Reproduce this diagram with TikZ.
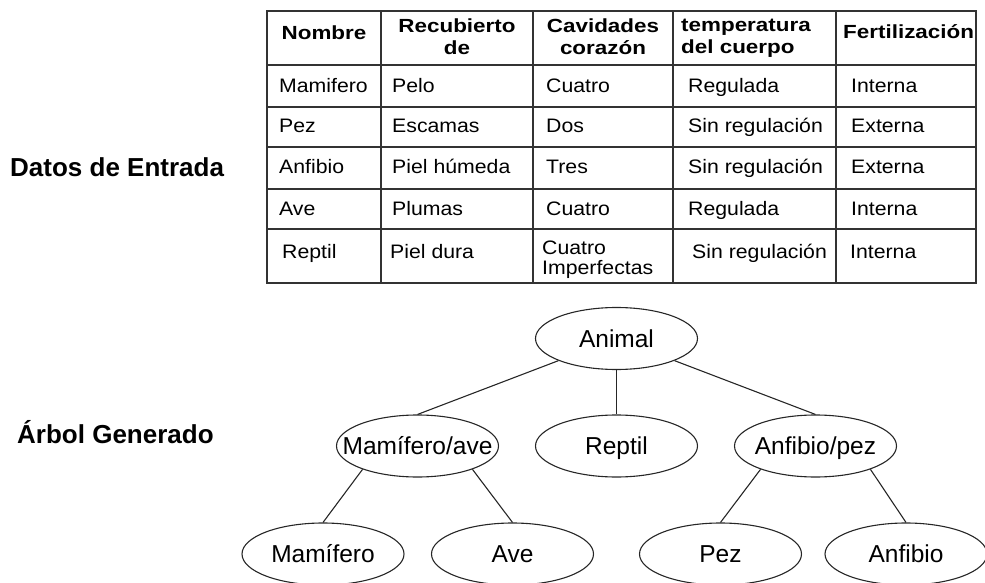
\documentclass[tikz,border=0pt]{standalone}
\usepackage{fontspec}
\setmainfont{Liberation Sans}
\newfontfamily\cellfont{Liberation Sans}[FakeStretch=1.09]
\newfontfamily\headfont{Liberation Sans}[FakeStretch=1.18]
\usetikzlibrary{shapes.geometric}
\tikzstyle{cell}   = [inner sep=0pt, anchor=base west,
                      font=\cellfont\fontsize{19.5}{20}\selectfont]
\tikzstyle{hcell}  = [inner sep=0pt, font=\headfont\bfseries\fontsize{19}{22}\selectfont]
\tikzstyle{title}  = [inner sep=0pt, anchor=base west,
                      font=\bfseries\fontsize{26}{30}\selectfont]
\tikzstyle{grid}   = [line width=1.6pt, draw=black!80]
\tikzstyle{frame}  = [line width=2.6pt, draw=black!80]
\tikzstyle{taxon}  = [ellipse, draw=black!85, line width=1.1pt, minimum width=162pt,
                      minimum height=62pt, inner ysep=0pt, inner xsep=-18pt,
                      text height=17.5pt, text depth=0pt,
                      font=\fontsize{24.5}{28}\selectfont]
\tikzstyle{branch} = [line width=1.1pt, draw=black!85]

\begin{document}
\begin{tikzpicture}[x=1pt, y=-1pt]
  \useasboundingbox (0,0) rectangle (985,583);

  % Titles
  \node[title] (input)  at (10,176) {Datos de Entrada};
  \node[title] (output) at (17,443) {Árbol Generado};

  % Table grid
  \foreach \x in {381,533,673,836} \draw[grid] (\x,11) -- (\x,283);
  \foreach \y in {65,107,147,189,229} \draw[grid] (267,\y) -- (976,\y);
  \draw[frame] (267,11) rectangle (976,283);

  % Header
  \node[hcell, anchor=base] (hname) at (324,40) {Nombre};
  \node[hcell, anchor=north, align=center] (hcover) at (457,19) {Recubierto\\de};
  \node[hcell, anchor=north, align=center] (hheart) at (603,19) {Cavidades\\corazón};
  \node[hcell, anchor=north west, align=left] (htemp) at (681,19) {temperatura\\del cuerpo};
  \node[hcell, anchor=base west] (hfert) at (843,39) {Fertilización};

  % Rows
  \foreach \row/\base/\kind/\cover/\heart/\temp/\fert in {
      m/93/Mamifero/Pelo/Cuatro/Regulada/Interna,
      p/133/Pez/Escamas/Dos/Sin regulación/Externa,
      f/173/Anfibio/Piel húmeda/Tres/Sin regulación/Externa,
      a/215/Ave/Plumas/Cuatro/Regulada/Interna} {
    \node[cell] (kind-\row)  at (279,\base) {\kind};
    \node[cell] (cover-\row) at (392,\base) {\cover};
    \node[cell] (heart-\row) at (546,\base) {\heart};
    \node[cell] (temp-\row)  at (688,\base) {\temp};
    \node[cell] (fert-\row)  at (851,\base) {\fert};
  }
  \node[cell] (kind-r)  at (282,258) {Reptil};
  \node[cell] (cover-r) at (390,258) {Piel dura};
  \node[cell, anchor=north west, align=left] (heart-r) at (542,241) {Cuatro\\Imperfectas};
  \node[cell] (temp-r)  at (692,258) {Sin regulación};
  \node[cell] (fert-r)  at (850,258) {Interna};

  % Tree
  \node[taxon] (animal) at (616.5,338.5) {Animal};
  \node[taxon] (mamave) at (417.5,446)   {Mamífero/ave};
  \node[taxon] (reptil) at (616.5,446)   {Reptil};
  \node[taxon] (anfpez) at (815.5,446)   {Anfibio/pez};
  \node[taxon] (mam)    at (323,554)     {Mamífero};
  \node[taxon] (ave)    at (512.5,554)   {Ave};
  \node[taxon] (pez)    at (720.5,554)   {Pez};
  \node[taxon] (anf)    at (906,554)     {Anfibio};

  \draw[branch] (animal) -- (mamave.north);
  \draw[branch] (animal.south) -- (reptil.north);
  \draw[branch] (animal) -- (anfpez.north);
  \draw[branch] (mamave.203) -- (mam.north);
  \draw[branch] (mamave.337) -- (ave.north);
  \draw[branch] (anfpez.203) -- (pez.north);
  \draw[branch] (anfpez.337) -- (anf.north);
\end{tikzpicture}
\end{document}
